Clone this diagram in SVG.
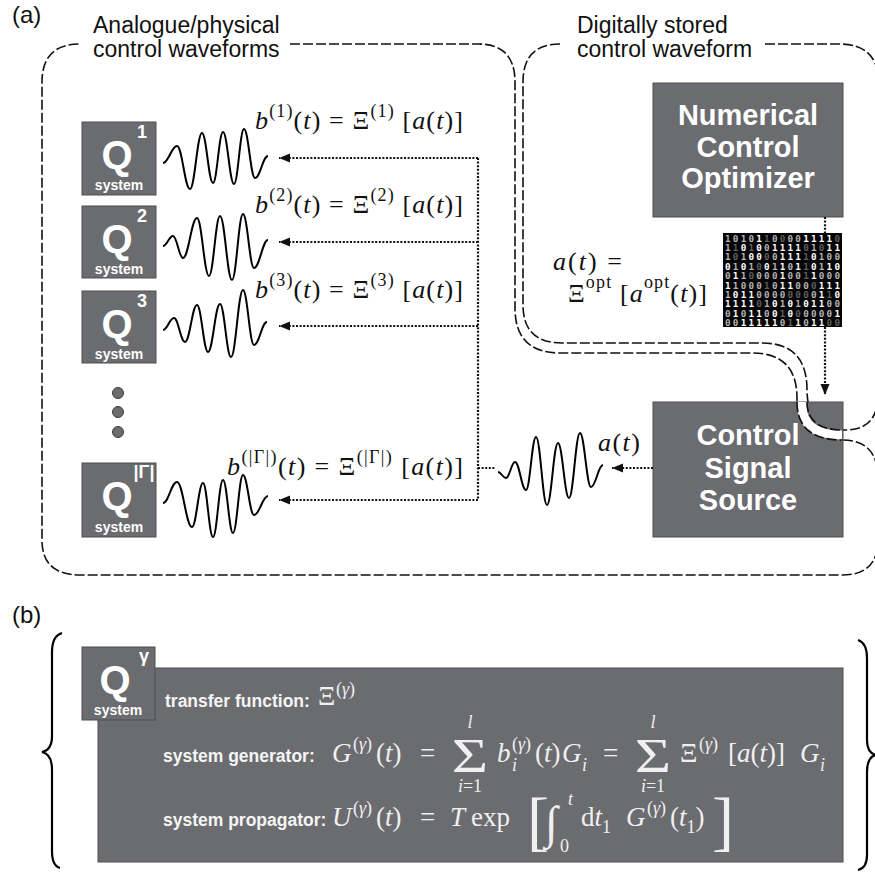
<svg xmlns="http://www.w3.org/2000/svg" width="875" height="876" viewBox="0 0 875 876">
<style>
.box{fill:#6b6c70;stroke:#4e4e50;stroke-width:1}
.qL{font:bold 40px "Liberation Sans",Arial,sans-serif;fill:#fff;text-anchor:middle}
.qS{font:bold 18px "Liberation Sans",Arial,sans-serif;fill:#fff;text-anchor:middle}
.sys{font:bold 14px "Liberation Sans",Arial,sans-serif;fill:#fff;text-anchor:middle}
.big{font:bold 29px "Liberation Sans",Arial,sans-serif;fill:#fff;text-anchor:middle}
.lab{font:23px "Liberation Sans",Arial,sans-serif;fill:#111}
.dash{fill:none;stroke:#111;stroke-width:1.6;stroke-dasharray:10 3}
.band{fill:none;stroke:#fff;stroke-width:9}
.dot{fill:none;stroke:#111;stroke-width:2.2;stroke-dasharray:2 1.6}
.wave{fill:none;stroke:#000;stroke-width:2}
.m{font-family:"Liberation Serif","Times New Roman",serif;font-size:26px;fill:#111}
.mw{font-family:"Liberation Serif","Times New Roman",serif;font-size:27px;fill:#f0f0f0}
.i{font-style:italic}
.s{font-size:18px}
.c{text-anchor:middle}
.bl{font:bold 17.5px "Liberation Sans",Arial,sans-serif;fill:#f5f5f5}
.bin{font:bold 9.3px "DejaVu Sans Mono",monospace;fill:#fff}
.d{fill:#5e5e5e}
.g{fill:#b4b4b4}
.dt{fill:#6b6c70;stroke:#3c3c3c;stroke-width:1}
.brace{fill:none;stroke:#000;stroke-width:2.2}
</style>
<defs>
<marker id="ah" markerWidth="12" markerHeight="10" refX="11" refY="5" orient="auto" markerUnits="userSpaceOnUse"><path d="M0,0.5 L11,5 L0,9.5 z" fill="#111"/></marker>
</defs>

<text class="lab" x="12" y="23" style="font-size:24px">(a)</text>
<text class="lab" x="12" y="623" style="font-size:24px">(b)</text>

<g id="regions">
<path class="band" d="M802,398 Q802,435 842,435 L860,435"/>
<path class="dash" d="M290,44 H478 Q515,44 515,82 V308 Q515,353 560,353 H752 Q797,353 797,398 Q797,440 842,440 Q878,440 878,478 V540 Q878,575 842,575 H80 Q42,575 42,540 V82 Q42,44 80,44"/>
<path class="dash" d="M560,44 Q523,44 523,82 V305 Q523,343 562,343 H762 Q807,343 807,390 Q807,430 845,430 Q878,430 878,395"/>
<path class="dash" d="M765,44 H838 Q878,44 878,80"/>
<text class="lab" x="93" y="33">Analogue/physical</text>
<text class="lab" x="93" y="57">control waveforms</text>
<text class="lab" x="577" y="33">Digitally stored</text>
<text class="lab" x="577" y="57">control waveform</text>
</g>

<g id="q1">
<rect class="box" x="82" y="122" width="74" height="73"/>
<text class="qL" x="117" y="169">Q</text><text class="qS" x="142" y="138">1</text><text class="sys" x="119" y="190">system</text>
</g>
<g id="q2">
<rect class="box" x="82" y="206" width="74" height="72"/>
<text class="qL" x="117" y="253">Q</text><text class="qS" x="142" y="222">2</text><text class="sys" x="119" y="274">system</text>
</g>
<g id="q3">
<rect class="box" x="82" y="291" width="74" height="72"/>
<text class="qL" x="117" y="338">Q</text><text class="qS" x="142" y="307">3</text><text class="sys" x="119" y="359">system</text>
</g>
<g id="ellipsis">
<circle class="dt" cx="118" cy="393" r="5.5"/><circle class="dt" cx="118" cy="412" r="5.5"/><circle class="dt" cx="118" cy="432" r="5.5"/>
</g>
<g id="qG">
<rect class="box" x="82" y="463" width="74" height="74"/>
<text class="qL" x="117" y="510">Q</text><text class="qS" x="144" y="478">|Γ|</text><text class="sys" x="119" y="532">system</text>
</g>

<g id="waves">
<path class="wave" d="M163,163 C168.6,163 171.4,146 177,146 C182.2,146 184.8,189 190,189 C194.8,189 197.2,133 202,133 C206.4,133 208.6,183 213,183 C217,183 219,132 223,132 C227.4,132 229.6,184 234,184 C238,184 240,129 244,129 C248.4,129 250.6,178 255,178 C260.2,178 262.8,156 268,156"/>
<path class="wave" d="M163,246 C167,246 169,236 173,236 C177,236 179,258 183,258 C188.6,258 191.4,218 197,218 C201.8,218 204.2,276 209,276 C213.4,276 215.6,216 220,216 C224.8,216 227.2,280 232,280 C236.4,280 238.6,214 243,214 C247.4,214 249.6,268 254,268 C259.6,268 262.4,240 268,240"/>
<path class="wave" d="M163,330 C167.4,330 169.6,318 174,318 C178.4,318 180.6,342 185,342 C189.8,342 192.2,305 197,305 C201.4,305 203.6,352 208,352 C212.8,352 215.2,304 220,304 C224.4,304 226.6,357 231,357 C235.8,357 238.2,290 243,290 C247.4,290 249.6,345 254,345 C259.2,345 261.8,322 267,322"/>
<path class="wave" d="M163,503 C168.6,503 171.4,482 177,482 C183,482 186,527 192,527 C196.4,527 198.6,483 203,483 C207,483 209,537 213,537 C217,537 219,480 223,480 C227,480 229,533 233,533 C237,533 239,475 243,475 C247.4,475 249.6,515 254,515 C259.6,515 262.4,496 268,496"/>
<path class="wave" d="M498,472 C501.2,472 502.8,478 506,478 C509.6,478 511.4,462 515,462 C519.4,462 521.6,490 526,490 C530,490 532,437 536,437 C540.4,437 542.6,505 547,505 C551.4,505 553.6,443 558,443 C562.4,443 564.6,498 569,498 C573.4,498 575.6,433 580,433 C584.4,433 586.6,487 591,487 C595.8,487 598.2,465 603,465"/>
</g>

<g id="formulas">
<text class="m" x="255" y="129" textLength="208" lengthAdjust="spacing"><tspan class="i">b</tspan><tspan dy="-12" class="s">(1)</tspan><tspan dy="12">(</tspan><tspan class="i">t</tspan><tspan>) = Ξ</tspan><tspan dy="-12" class="s">(1)</tspan><tspan dy="12"> [</tspan><tspan class="i">a</tspan><tspan>(</tspan><tspan class="i">t</tspan><tspan>)]</tspan></text>
<text class="m" x="255" y="213" textLength="208" lengthAdjust="spacing"><tspan class="i">b</tspan><tspan dy="-12" class="s">(2)</tspan><tspan dy="12">(</tspan><tspan class="i">t</tspan><tspan>) = Ξ</tspan><tspan dy="-12" class="s">(2)</tspan><tspan dy="12"> [</tspan><tspan class="i">a</tspan><tspan>(</tspan><tspan class="i">t</tspan><tspan>)]</tspan></text>
<text class="m" x="255" y="298" textLength="208" lengthAdjust="spacing"><tspan class="i">b</tspan><tspan dy="-12" class="s">(3)</tspan><tspan dy="12">(</tspan><tspan class="i">t</tspan><tspan>) = Ξ</tspan><tspan dy="-12" class="s">(3)</tspan><tspan dy="12"> [</tspan><tspan class="i">a</tspan><tspan>(</tspan><tspan class="i">t</tspan><tspan>)]</tspan></text>
<text class="m" x="227" y="475" textLength="236" lengthAdjust="spacing"><tspan class="i">b</tspan><tspan dy="-12" class="s">(|Γ|)</tspan><tspan dy="12">(</tspan><tspan class="i">t</tspan><tspan>) = Ξ</tspan><tspan dy="-12" class="s">(|Γ|)</tspan><tspan dy="12"> [</tspan><tspan class="i">a</tspan><tspan>(</tspan><tspan class="i">t</tspan><tspan>)]</tspan></text>
<text class="m" x="553" y="270" textLength="69" lengthAdjust="spacing"><tspan class="i">a</tspan><tspan>(</tspan><tspan class="i">t</tspan><tspan>) =</tspan></text>
<text class="m" x="568" y="302" textLength="139" lengthAdjust="spacing"><tspan>Ξ</tspan><tspan dy="-14" class="s">opt</tspan><tspan dy="14"> [</tspan><tspan class="i">a</tspan><tspan dy="-14" class="s">opt</tspan><tspan dy="14">(</tspan><tspan class="i">t</tspan><tspan>)]</tspan></text>
<text class="m" x="598" y="451" textLength="42" lengthAdjust="spacing"><tspan class="i">a</tspan><tspan>(</tspan><tspan class="i">t</tspan><tspan>)</tspan></text>
</g>

<g id="nco">
<rect class="box" x="653" y="83" width="190" height="134"/>
<text class="big" x="748" y="125">Numerical</text>
<text class="big" x="748" y="157">Control</text>
<text class="big" x="748" y="188">Optimizer</text>
</g>

<g id="matrix">
<rect x="723" y="233" width="119" height="94" fill="#050505"/>
<text class="bin" x="725" y="241.5" textLength="115" lengthAdjust="spacing"><tspan class="g">1010</tspan><tspan>1</tspan><tspan class="d">1</tspan><tspan class="g">0</tspan><tspan class="d">0</tspan><tspan class="g">00</tspan><tspan>1111</tspan><tspan class="d">0</tspan></text>
<text class="bin" x="725" y="250.9" textLength="115" lengthAdjust="spacing"><tspan class="g">1</tspan><tspan class="d">1</tspan><tspan>0</tspan><tspan class="d">1</tspan><tspan>0</tspan><tspan class="g">0</tspan><tspan>1111</tspan><tspan class="d">0</tspan><tspan class="g">1</tspan><tspan class="d">0</tspan><tspan>11</tspan></text>
<text class="bin" x="725" y="260.3" textLength="115" lengthAdjust="spacing"><tspan class="g">1</tspan><tspan class="d">0</tspan><tspan class="g">1</tspan><tspan>00</tspan><tspan class="d">0</tspan><tspan class="g">0</tspan><tspan>111</tspan><tspan class="d">1</tspan><tspan>0</tspan><tspan class="g">100</tspan></text>
<text class="bin" x="725" y="269.7" textLength="115" lengthAdjust="spacing"><tspan>0</tspan><tspan class="g">1</tspan><tspan>0</tspan><tspan class="g">1</tspan><tspan class="d">0</tspan><tspan>0</tspan><tspan class="g">1</tspan><tspan>1</tspan><tspan class="g">0</tspan><tspan>1</tspan><tspan class="d">1</tspan><tspan>0</tspan><tspan class="g">1</tspan><tspan>10</tspan></text>
<text class="bin" x="725" y="279.1" textLength="115" lengthAdjust="spacing"><tspan class="g">0</tspan><tspan>1</tspan><tspan class="g">1</tspan><tspan class="d">0</tspan><tspan class="g">000</tspan><tspan>1</tspan><tspan class="g">00</tspan><tspan class="d">1</tspan><tspan>1</tspan><tspan class="g">000</tspan></text>
<text class="bin" x="725" y="288.5" textLength="115" lengthAdjust="spacing"><tspan>1</tspan><tspan class="g">1000</tspan><tspan class="d">1</tspan><tspan class="g">0</tspan><tspan>11</tspan><tspan class="g">00</tspan><tspan class="d">0</tspan><tspan>111</tspan></text>
<text class="bin" x="725" y="297.9" textLength="115" lengthAdjust="spacing"><tspan class="g">1</tspan><tspan>011</tspan><tspan class="g">0000</tspan><tspan class="d">000</tspan><tspan class="g">0</tspan><tspan>1</tspan><tspan class="d">1</tspan><tspan>0</tspan></text>
<text class="bin" x="725" y="307.3" textLength="115" lengthAdjust="spacing"><tspan>1111</tspan><tspan class="d">0</tspan><tspan class="g">1</tspan><tspan>0</tspan><tspan class="g">1</tspan><tspan>0</tspan><tspan class="g">1</tspan><tspan>011</tspan><tspan class="g">00</tspan></text>
<text class="bin" x="725" y="316.7" textLength="115" lengthAdjust="spacing"><tspan class="g">0</tspan><tspan>1</tspan><tspan class="g">0</tspan><tspan>11</tspan><tspan class="g">0</tspan><tspan>0</tspan><tspan class="d">1</tspan><tspan>0</tspan><tspan class="d">0</tspan><tspan class="g">0000</tspan><tspan>1</tspan></text>
<text class="bin" x="725" y="326.1" textLength="115" lengthAdjust="spacing"><tspan class="g">00</tspan><tspan>11111</tspan><tspan class="g">0</tspan><tspan class="d">1</tspan><tspan>1</tspan><tspan class="g">0</tspan><tspan>11</tspan><tspan class="d">00</tspan></text>
</g>

<g id="css">
<rect class="box" x="653" y="402" width="190" height="135"/>
<path class="band" d="M802,402 V405 Q802,435 842,435"/>
<path class="dash" d="M797,402 Q797,440 842,440"/>
<path class="dash" d="M807,402 Q807,430 843,430"/>
<text class="big" x="748" y="445">Control</text>
<text class="big" x="748" y="478">Signal</text>
<text class="big" x="748" y="510">Source</text>
</g>

<g id="connectors">
<path class="dot" d="M478,158 V500"/>
<path class="dot" d="M478,158 H279" marker-end="url(#ah)"/>
<path class="dot" d="M478,242 H279" marker-end="url(#ah)"/>
<path class="dot" d="M478,326 H279" marker-end="url(#ah)"/>
<path class="dot" d="M478,500 H279" marker-end="url(#ah)"/>
<path class="dot" d="M478,468 H495"/>
<path class="dot" d="M653,468 H612" marker-end="url(#ah)"/>
<path class="dot" d="M825,217 V233"/>
<path class="dot" d="M825,327 V395" marker-end="url(#ah)"/>
</g>

<g id="braces">
<path class="brace" d="M62,633 Q52,636 52,652 V736 Q52,750 42,752 Q52,754 52,770 V851 Q52,866 60,868"/>
<path class="brace" d="M858,640 Q867,643 867,658 V740 Q867,753 876,755 Q867,757 867,772 V855 Q867,868 858,870"/>
</g>
<g id="detail">
<rect class="box" x="98" y="668" width="745" height="194"/>
</g>
<g id="qgamma">
<rect class="box" x="82" y="647" width="73" height="73"/>
<text class="qL" x="115" y="694">Q</text><text class="qS" x="144" y="662">γ</text><text class="sys" x="118" y="715">system</text>
</g>
<g id="detail-text">
<text class="bl" x="165" y="707">transfer function:</text>
<text class="mw" x="318" y="705">Ξ</text>
<text class="mw s" x="336" y="695">(<tspan class="i">γ</tspan>)</text>

<text class="bl" x="163" y="762">system generator:</text>
<text class="mw i" x="332" y="762">G</text>
<text class="mw s" x="353" y="750">(<tspan class="i">γ</tspan>)</text>
<text class="mw" x="376" y="762">(<tspan class="i">t</tspan>)</text>
<text class="mw" x="420" y="762">=</text>
<text class="mw c" transform="translate(470,772) scale(1.3,1)" style="font-size:48px">Σ</text>
<text class="mw s i c" x="470" y="728">l</text>
<text class="mw s c" x="470" y="792"><tspan class="i">i</tspan>=1</text>
<text class="mw i" x="497" y="762">b</text>
<text class="mw s i" x="512" y="771">i</text>
<text class="mw s" x="512" y="750">(<tspan class="i">γ</tspan>)</text>
<text class="mw" x="535" y="762">(<tspan class="i">t</tspan>)</text>
<text class="mw i" x="562" y="762">G</text>
<text class="mw s i" x="582" y="771">i</text>
<text class="mw" x="603" y="762">=</text>
<text class="mw c" transform="translate(653,772) scale(1.3,1)" style="font-size:48px">Σ</text>
<text class="mw s i c" x="653" y="728">l</text>
<text class="mw s c" x="653" y="792"><tspan class="i">i</tspan>=1</text>
<text class="mw" x="680" y="762">Ξ</text>
<text class="mw s" x="699" y="750">(<tspan class="i">γ</tspan>)</text>
<text class="mw" x="728" y="762">[<tspan class="i">a</tspan>(<tspan class="i">t</tspan>)]</text>
<text class="mw i" x="800" y="762">G</text>
<text class="mw s i" x="820" y="771">i</text>

<text class="bl" x="163" y="826">system propagator:</text>
<text class="mw i" x="332" y="826">U</text>
<text class="mw s" x="353" y="814">(<tspan class="i">γ</tspan>)</text>
<text class="mw" x="376" y="826">(<tspan class="i">t</tspan>)</text>
<text class="mw" x="420" y="826">=</text>
<text class="mw i" x="450" y="826">T</text>
<text class="mw" x="471" y="826">exp</text>
<text class="mw" x="527" y="843" style="font-size:66px">[</text>
<text class="mw i" x="545" y="838" style="font-size:46px">∫</text>
<text class="mw s i" x="568" y="805">t</text>
<text class="mw s" x="560" y="852">0</text>
<text class="mw" x="581" y="826">d<tspan class="i">t</tspan><tspan class="s" dy="7">1</tspan></text>
<text class="mw i" x="626" y="826">G</text>
<text class="mw s" x="647" y="814">(<tspan class="i">γ</tspan>)</text>
<text class="mw" x="670" y="826">(<tspan class="i">t</tspan><tspan class="s" dy="7">1</tspan><tspan dy="-7">)</tspan></text>
<text class="mw" x="712" y="843" style="font-size:66px">]</text>
</g>
</svg>
